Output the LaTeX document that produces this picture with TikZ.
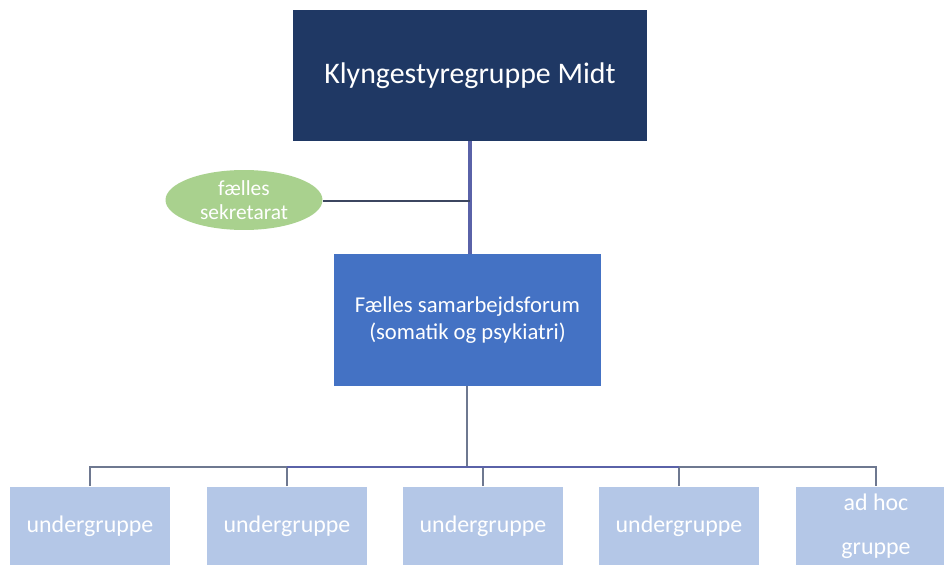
\documentclass[tikz,border=0pt]{standalone}
\usepackage{fontspec}
\setmainfont{Carlito}
\usetikzlibrary{positioning, shapes.geometric}
\definecolor{KlyngeNavy}{HTML}{1F3864}
\definecolor{ForumBlue}{HTML}{4472C4}
\definecolor{GruppeBlue}{HTML}{B4C7E7}
\definecolor{SekrGreen}{HTML}{A9D18E}
\definecolor{LinkBlue}{HTML}{5A62A8}
\definecolor{LinkGrey}{HTML}{6E7890}
\definecolor{LinkDark}{HTML}{3C4660}
\tikzset{
  topbox/.style={draw=none, fill=KlyngeNavy, text=white, minimum width=7.08cm, minimum height=2.62cm, font=\fontsize{17}{20}\selectfont},
  forumbox/.style={draw=none, fill=ForumBlue, text=white, align=center, minimum width=5.34cm, minimum height=2.64cm, font=\fontsize{12.9}{15.4}\selectfont},
  subbox/.style={draw=none, fill=GruppeBlue, text=white, align=center, minimum width=3.2cm, minimum height=1.58cm, font=\fontsize{13.6}{25}\selectfont},
  sekrnode/.style={ellipse, draw=none, fill=SekrGreen, text=white, align=center, minimum width=3.14cm, minimum height=1.2cm, inner sep=0pt, font=\fontsize{12.2}{13.7}\selectfont},
  mainlink/.style={draw=LinkBlue, line width=1.8pt},
  barlink/.style={draw=LinkGrey, line width=1.2pt},
  sidelink/.style={draw=LinkDark, line width=0.8pt}
}
\begin{document}
\begin{tikzpicture}[x=0.02cm, y=-0.02cm]
    \useasboundingbox[fill=white] (0,0) rectangle (944,565);

    % Top level
    \node[topbox] (klynge) at (470,75.5) {Klyngestyregruppe Midt};
    \node[forumbox] (forum) at (467.5,320) {Fælles samarbejdsforum\\(somatik og psykiatri)};
    \node[sekrnode] (sekr) at (244,200) {fælles\\sekretarat};

    \draw[mainlink] (klynge.south -| 470,0) -- (forum.north -| 470,0);
    \coordinate (sekrjoin) at (470,201);
    \draw[sidelink] (sekr.east |- sekrjoin) -- (sekrjoin);

    % Undergrupper
    \node[subbox] (ug1) at (90,526) {undergruppe};
    \node[subbox] (ug2) at (287,526) {undergruppe};
    \node[subbox] (ug3) at (483,526) {undergruppe};
    \node[subbox] (ug4) at (679,526) {undergruppe};
    \node[subbox] (adhoc) at (876,526) {ad hoc\\gruppe};

    \coordinate (bar) at (467,467);
    \draw[barlink] (forum.south -| bar) -- (bar);
    \draw[barlink] (ug1.north) |- (bar) -| (adhoc.north);
    \foreach \g in {ug2,ug3,ug4}
        \draw[barlink] (\g.north) -- (\g.north |- bar);
    \draw[mainlink, line width=1.2pt] (ug2.north |- bar) -- (ug4.north |- bar);

\end{tikzpicture}
\end{document}
